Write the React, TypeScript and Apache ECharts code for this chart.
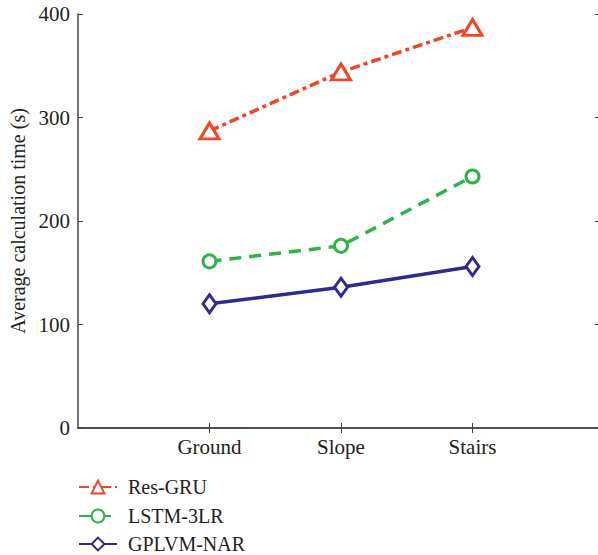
import React, { useEffect, useRef } from "react";
import * as echarts from "echarts";

const categories = ["", "Ground", "Slope", "Stairs", ""];
const resGru = [null, 287, 344, 387, null];
const lstm3lr = [null, 161, 176, 243, null];
const gplvmNar = [null, 120, 136, 156, null];
const seriesNames = ["Res-GRU", "LSTM-3LR", "GPLVM-NAR"];
const yTicks = { min: 0, max: 400, interval: 100 };

const FONT = "'Liberation Serif', 'DejaVu Serif', serif";
const AXIS = "#444";

export default function App() {
  const ref = useRef<HTMLDivElement>(null);
  useEffect(() => {
    document.body.style.margin = "0";
    const chart = echarts.init(ref.current!, null, { renderer: "svg" });
    const tickShow = (_i: number, v: string) => v !== "";
    const legendTops = [477, 506, 534];
    chart.setOption({
      animation: false,
      backgroundColor: "#fff",
      grid: { left: 78, top: 14, width: 526, height: 414, outerBoundsMode: "none", containLabel: false },
      legend: seriesNames.map((n, i) => ({
        orient: "vertical",
        left: 78,
        top: legendTops[i],
        padding: 0,
        itemWidth: 38,
        itemHeight: 16,
        textStyle: { fontFamily: FONT, fontSize: 20, color: "#222", padding: [0, 0, 0, 6] },
        data: [n],
      })),
      xAxis: [
        {
          type: "category",
          data: categories,
          boundaryGap: false,
          axisLine: { lineStyle: { color: AXIS, width: 1.5 } },
          axisTick: { inside: true, length: 5, interval: tickShow, lineStyle: { color: AXIS } },
          axisLabel: { interval: 0, fontFamily: FONT, fontSize: 21, color: "#222", margin: 8 },
          splitLine: { show: false },
        },
        {
          type: "category",
          data: categories,
          position: "top",
          boundaryGap: false,
          axisLine: { lineStyle: { color: AXIS, width: 1.5 } },
          axisTick: { inside: true, length: 5, interval: tickShow, lineStyle: { color: AXIS } },
          axisLabel: { show: false },
        },
      ],
      yAxis: [
        {
          type: "value",
          min: yTicks.min,
          max: yTicks.max,
          interval: yTicks.interval,
          name: "Average calculation time (s)",
          nameLocation: "middle",
          nameGap: 48,
          nameTextStyle: { fontFamily: FONT, fontSize: 20, color: "#222" },
          axisLine: { show: true, lineStyle: { color: AXIS, width: 1.5 } },
          axisTick: { show: true, inside: true, length: 5, lineStyle: { color: AXIS } },
          axisLabel: { fontFamily: FONT, fontSize: 21, color: "#222", margin: 8 },
          splitLine: { show: false },
        },
        {
          type: "value",
          min: yTicks.min,
          max: yTicks.max,
          interval: yTicks.interval,
          position: "right",
          axisLine: { show: true, lineStyle: { color: AXIS, width: 1.5 } },
          axisTick: { show: true, inside: true, length: 9, lineStyle: { color: AXIS } },
          axisLabel: { show: false },
          splitLine: { show: false },
        },
      ],
      series: [
        {
          name: "Res-GRU",
          type: "line",
          data: resGru,
          symbol: "triangle",
          symbolSize: [19, 16],
          color: "#ef4528",
          itemStyle: { color: "#fff", borderColor: "#ef4528", borderWidth: 3 },
          lineStyle: { color: "#ef4528", width: 3.5, type: [10, 4, 4, 4] },
        },
        {
          name: "LSTM-3LR",
          type: "line",
          data: lstm3lr,
          symbol: "circle",
          symbolSize: 13,
          color: "#2eb348",
          itemStyle: { color: "#fff", borderColor: "#2eb348", borderWidth: 3 },
          lineStyle: { color: "#2eb348", width: 3.5, type: [12, 8] },
        },
        {
          name: "GPLVM-NAR",
          type: "line",
          data: gplvmNar,
          symbol: "diamond",
          symbolSize: [13, 18],
          color: "#2e2a8e",
          itemStyle: { color: "#fff", borderColor: "#2e2a8e", borderWidth: 3 },
          lineStyle: { color: "#2e2a8e", width: 3.5 },
        },
      ],
    });
    return () => chart.dispose();
  }, []);
  return <div ref={ref} style={{ width: 598, height: 555 }} />;
}
